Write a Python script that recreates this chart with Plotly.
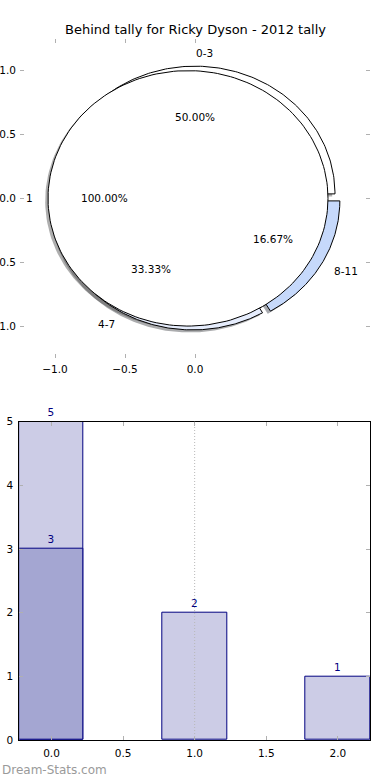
import numpy as np
import plotly.graph_objects as go

# ---------------- data ----------------
title_text = "Behind tally for Ricky Dyson - 2012 tally"
pie_labels = ["0-3", "4-7", "8-11"]
pie_values = [3, 2, 1]
outer_labels = ["1"]
outer_values = [1]
bar_x = [0, 1, 2]
bar_values = [5, 2, 1]
sub_x = [0]
sub_values = [3]
pie_ticks_x = [-1.0, -0.5, 0.0]
pie_ticks_y = [-1.0, -0.5, 0.0, 0.5, 1.0]
# the reference figure crops the minus signs of the left tick labels
pie_ticktext_y = ["1.0", "0.5", "0.0", "0.5", "1.0"]
bar_ticks_x = [0.0, 0.5, 1.0, 1.5, 2.0]
bar_ticks_y = [0, 1, 2, 3, 4, 5]

# ---------------- style ----------------
pie_colors = ["#ffffff", "#e6edfd", "#c6d9fb"]
pie_explode = [0.035, 0.035, 0.04]
outer_colors = ["#ffffff"]
outer_explode = [0.05]
FONT = "DejaVu Sans"
W, H = 390, 780

fig = go.Figure()


def wedge_path(cx, cy, t1, t2):
    full = abs((t2 - t1) - 360) < 1e-9
    th = np.radians(np.linspace(t1, t2, 200))
    xs = cx + np.cos(th)
    ys = cy + np.sin(th)
    if not full:
        xs = np.concatenate([[cx], xs, [cx]])
        ys = np.concatenate([[cy], ys, [cy]])
    return xs, ys


def build_pie(values, labels, colors, explode):
    total = float(sum(values))
    wedges = []
    annots = []
    theta1 = 0.0
    for v, lab, col, ex in zip(values, labels, colors, explode):
        frac = v / total
        theta2 = theta1 + 360.0 * frac
        thm = np.radians((theta1 + theta2) / 2.0)
        cx = ex * np.cos(thm)
        cy = ex * np.sin(thm)
        xs, ys = wedge_path(cx, cy, theta1, theta2)
        wedges.append((xs, ys, col))
        xt = cx + 1.1 * np.cos(thm)
        yt = cy + 1.1 * np.sin(thm)
        annots.append(dict(x=xt, y=yt, text=lab, xanchor="left" if xt > 0 else "right"))
        xp = cx + 0.6 * np.cos(thm)
        yp = cy + 0.6 * np.sin(thm)
        annots.append(dict(x=xp, y=yp, text="%.2f%%" % (100 * frac), xanchor="center"))
        theta1 = theta2
    return wedges, annots


def shade(col):
    c = col.lstrip("#")
    r, g, b = (int(c[i:i + 2], 16) for i in (0, 2, 4))
    return "rgba(%d,%d,%d,0.45)" % (r * 0.3, g * 0.3, b * 0.3)


w1, a1 = build_pie(pie_values, pie_labels, pie_colors, pie_explode)
w2, a2 = build_pie(outer_values, outer_labels, outer_colors, outer_explode)

# shadows first
for xs, ys, col in w1 + w2:
    fig.add_trace(go.Scatter(x=xs - 0.02, y=ys - 0.02, mode="lines", fill="toself",
                             fillcolor=shade(col), line=dict(width=0),
                             hoverinfo="skip", showlegend=False, xaxis="x", yaxis="y"))
for xs, ys, col in w1 + w2:
    fig.add_trace(go.Scatter(x=xs, y=ys, mode="lines", fill="toself",
                             fillcolor=col, line=dict(color="black", width=1),
                             hoverinfo="skip", showlegend=False, xaxis="x", yaxis="y"))

annotations = []
for a in a1 + a2:
    annotations.append(dict(x=a["x"], y=a["y"], xref="x", yref="y", text=a["text"],
                            showarrow=False, xanchor=a["xanchor"], yanchor="middle",
                            font=dict(family=FONT, size=10.5, color="black"), borderpad=0))

# bars
fig.add_trace(go.Bar(x=bar_x, y=bar_values, width=0.45,
                     marker=dict(color="#ccccE6", line=dict(color="#000080", width=1)),
                     text=[str(v) for v in bar_values], textposition="outside",
                     textfont=dict(family=FONT, size=10.5, color="#000080"),
                     cliponaxis=False, showlegend=False, xaxis="x2", yaxis="y2"))
fig.add_trace(go.Bar(x=sub_x, y=sub_values, width=0.45,
                     marker=dict(color="#a4a6d2", line=dict(color="#000080", width=1)),
                     text=[str(v) for v in sub_values], textposition="outside",
                     textfont=dict(family=FONT, size=10.5, color="#000080"),
                     cliponaxis=False, showlegend=False, xaxis="x2", yaxis="y2"))

fig.add_shape(type="line", xref="x2", yref="y2 domain", x0=bar_x[1], x1=bar_x[1], y0=0, y1=1,
              line=dict(color="#b8b8b8", width=1, dash="1px,2px"), layer="above")

annotations.append(dict(x=0.5, y=1 - 30 / H, xref="paper", yref="paper", text=title_text,
                        showarrow=False, xanchor="center", yanchor="middle",
                        font=dict(family=FONT, size=13, color="black")))
annotations.append(dict(x=0, y=1 - 770 / H, xref="paper", yref="paper", text="Dream-Stats.com",
                        showarrow=False, xanchor="left", yanchor="middle",
                        font=dict(family=FONT, size=12, color="#9a9a9a")))

tickfont = dict(family=FONT, size=10.5, color="black")
common = dict(showgrid=False, zeroline=False, ticks="inside", ticklen=4, tickwidth=1,
              tickcolor="#b0b0b0", tickfont=tickfont, automargin=False, fixedrange=True,
              ticklabelstandoff=3)

fig.update_layout(
    width=W, height=H, autosize=False,
    margin=dict(l=0, r=0, t=0, b=0),
    paper_bgcolor="white", plot_bgcolor="white",
    barmode="overlay", bargap=0,
    annotations=annotations,
    xaxis=dict(domain=[20 / W, 370 / W], range=[-1.25, 1.25], tickvals=pie_ticks_x,
               tickformat=".1f", showline=False, mirror="ticks", anchor="y", **common),
    yaxis=dict(domain=[1 - 358 / H, 1 - 38.7 / H], range=[-1.25, 1.25], tickvals=pie_ticks_y,
               ticktext=pie_ticktext_y, showline=False, mirror="ticks", anchor="x", **common),
    xaxis2=dict(domain=[19.3 / W, 370 / W], range=[-0.225, 2.225], tickvals=bar_ticks_x,
                tickformat=".1f", showline=True, linecolor="black", linewidth=1,
                mirror="ticks", anchor="y2", **common),
    yaxis2=dict(domain=[1 - 740 / H, 1 - 421.7 / H], range=[0, 5], tickvals=bar_ticks_y,
                showline=True, linecolor="black", linewidth=1, mirror="ticks", anchor="x2",
                **common),
    font=dict(family=FONT),
)

fig.write_html("out.html", config={"displayModeBar": False},
               post_script="document.body.style.margin='0';")
